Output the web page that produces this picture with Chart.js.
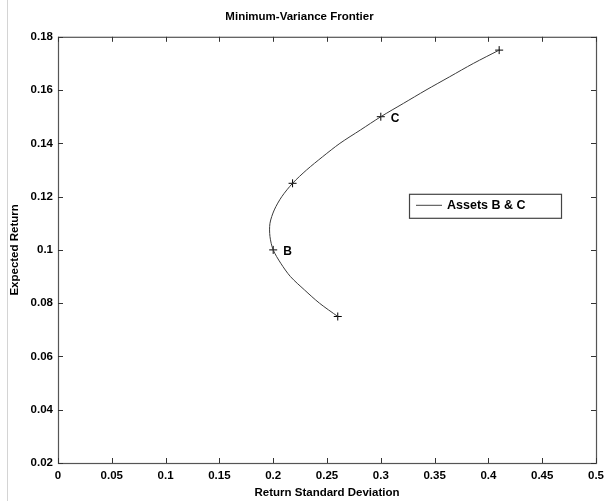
<!DOCTYPE html>
<html>
<head>
<meta charset="utf-8">
<script src="https://cdn.jsdelivr.net/npm/chart.js@4/dist/chart.umd.min.js"></script>
<style>
  html, body { margin: 0; padding: 0; background: #fff; }
  #wrap { width: 610px; height: 501px; position: relative; }
</style>
</head>
<body>
<div id="wrap"><canvas id="graph1"></canvas></div>
<script>
// frontier curve
const frontierSigma  = [0.260, 0.243, 0.229, 0.216, 0.207, 0.200, 0.197, 0.197, 0.201, 0.208, 0.218,
                        0.231, 0.246, 0.262, 0.281, 0.300, 0.321, 0.342, 0.364, 0.386, 0.410];
const frontierReturn = [0.075, 0.080, 0.085, 0.090, 0.095, 0.100, 0.105, 0.110, 0.115, 0.120, 0.125,
                        0.130, 0.135, 0.140, 0.145, 0.150, 0.155, 0.160, 0.165, 0.170, 0.175];

// '+' markers and their names
const markerSigma  = [0.26, 0.20, 0.218, 0.30, 0.41];
const markerReturn = [0.075, 0.10, 0.125, 0.15, 0.175];
const markerNames  = ['', 'B', '', 'C', ''];

const xTickValues = [0, 0.05, 0.1, 0.15, 0.2, 0.25, 0.3, 0.35, 0.4, 0.45, 0.5];
const xTickLabels = ['0', '0.05', '0.1', '0.15', '0.2', '0.25', '0.3', '0.35', '0.4', '0.45', '0.5'];
const yTickValues = [0.02, 0.04, 0.06, 0.08, 0.1, 0.12, 0.14, 0.16, 0.18];
const yTickLabels = ['0.02', '0.04', '0.06', '0.08', '0.1', '0.12', '0.14', '0.16', '0.18'];

const seriesName = 'Assets B & C';
const FONT = '"Liberation Sans", Arial, Helvetica, sans-serif';

// box, inward ticks, point names and the legend box (matlab look)
const matlabLook = {
  id: 'matlabLook',
  afterDraw(chart) {
    const ctx = chart.ctx;
    const a = chart.chartArea;
    const xs = chart.scales.x, ys = chart.scales.y;
    ctx.save();

    // faint scan edge at the left
    ctx.strokeStyle = '#d4d4d4';
    ctx.lineWidth = 1;
    ctx.beginPath();
    ctx.moveTo(7.5, 0);
    ctx.lineTo(7.5, 501);
    ctx.stroke();

    ctx.strokeStyle = '#555';
    ctx.lineWidth = 1.2;
    ctx.strokeRect(a.left + 0.5, a.top + 0.5, a.right - a.left, a.bottom - a.top);

    ctx.lineWidth = 1;
    ctx.strokeStyle = '#333';
    ctx.beginPath();
    xTickValues.forEach(v => {
      const px = Math.round(xs.getPixelForValue(v)) + 0.5;
      ctx.moveTo(px, a.bottom); ctx.lineTo(px, a.bottom - 5);
      ctx.moveTo(px, a.top); ctx.lineTo(px, a.top + 5);
    });
    yTickValues.forEach(v => {
      const py = Math.round(ys.getPixelForValue(v)) + 0.5;
      ctx.moveTo(a.left, py); ctx.lineTo(a.left + 5, py);
      ctx.moveTo(a.right, py); ctx.lineTo(a.right - 5, py);
    });
    ctx.stroke();

    // point names
    ctx.fillStyle = '#000';
    ctx.font = 'bold 12px ' + FONT;
    ctx.textAlign = 'left';
    ctx.textBaseline = 'middle';
    markerNames.forEach((n, i) => {
      if (!n) return;
      ctx.fillText(n, xs.getPixelForValue(markerSigma[i]) + 10, ys.getPixelForValue(markerReturn[i]) + 2);
    });

    // legend box
    const bx = a.right - 187, by = a.top + 157, bw = 152, bh = 24;
    ctx.fillStyle = '#fff';
    ctx.fillRect(bx, by, bw, bh);
    ctx.strokeStyle = '#444';
    ctx.lineWidth = 1.2;
    ctx.strokeRect(bx + 0.5, by + 0.5, bw, bh);
    ctx.strokeStyle = '#444';
    ctx.lineWidth = 1;
    ctx.beginPath();
    ctx.moveTo(bx + 7, by + 11.5);
    ctx.lineTo(bx + 33, by + 11.5);
    ctx.stroke();
    ctx.fillStyle = '#000';
    ctx.font = 'bold 12.5px ' + FONT;
    ctx.fillText(seriesName, bx + 38, by + 12);

    ctx.restore();
  }
};

const graph = document.getElementById('graph1').getContext('2d');

let myChart = new Chart(graph, {
  type: 'scatter',
  data: {
    datasets: [
      {
        label: seriesName,
        data: frontierSigma.map((s, i) => ({ x: s, y: frontierReturn[i] })),
        showLine: true,
        borderColor: '#3a3a3a',
        borderWidth: 1,
        pointRadius: 0,
        tension: 0.3,
      },
      {
        label: 'points',
        data: markerSigma.map((s, i) => ({ x: s, y: markerReturn[i] })),
        showLine: false,
        pointStyle: 'cross',
        pointRadius: 4,
        borderColor: '#000',
        borderWidth: 1,
      },
    ],
  },
  options: {
    responsive: true,
    maintainAspectRatio: false,
    animation: false,
    layout: { padding: { top: 0, right: 11, bottom: 0, left: 0 } },
    plugins: {
      legend: { display: false },
      tooltip: { enabled: false },
      title: {
        display: true,
        text: 'Minimum-Variance Frontier',
        color: '#000',
        font: { family: FONT, size: 11.5, weight: 'bold' },
        padding: { top: 10, bottom: 13 },
      },
    },
    scales: {
      x: {
        type: 'linear',
        min: 0,
        max: 0.5,
        afterBuildTicks: s => { s.ticks = xTickValues.map(v => ({ value: v })); },
        afterFit: s => { s.height = 38; },
        grid: { display: false, drawTicks: false },
        border: { display: false },
        ticks: {
          autoSkip: false,
          maxRotation: 0,
          padding: 6,
          color: '#000',
          font: { family: FONT, size: 11.5, weight: 'bold' },
          callback: (v, i) => xTickLabels[i],
        },
        title: {
          display: true,
          text: 'Return Standard Deviation',
          color: '#000',
          font: { family: FONT, size: 11.5, weight: 'bold' },
          padding: { top: 0, bottom: 1 },
        },
      },
      y: {
        type: 'linear',
        min: 0.02,
        max: 0.18,
        afterBuildTicks: s => { s.ticks = yTickValues.map(v => ({ value: v })); },
        afterFit: s => { s.width = 58; },
        grid: { display: false, drawTicks: false },
        border: { display: false },
        ticks: {
          autoSkip: false,
          padding: 5,
          color: '#000',
          font: { family: FONT, size: 11.5, weight: 'bold' },
          callback: (v, i) => yTickLabels[i],
        },
        title: {
          display: true,
          text: 'Expected Return',
          color: '#000',
          font: { family: FONT, size: 11.5, weight: 'bold' },
          padding: { top: 8, bottom: 0 },
        },
      },
    },
  },
  plugins: [matlabLook],
});
</script>
</body>
</html>
